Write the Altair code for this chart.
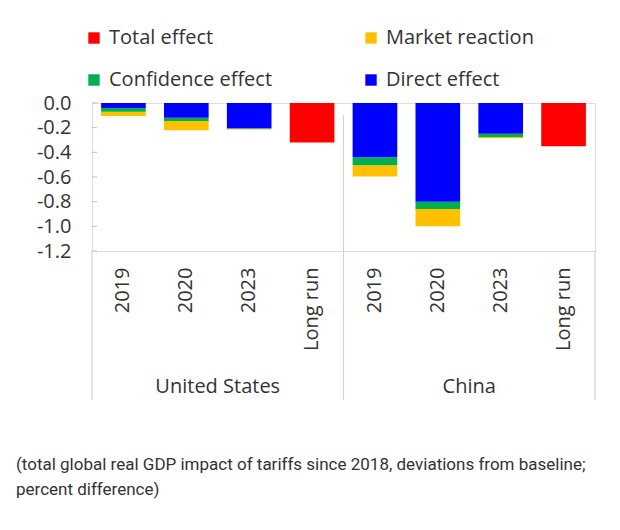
import altair as alt
import pandas as pd

countries = ["United States", "China"]
periods = ["2019", "2020", "2023", "Long run"]

# values per bar: US 2019, 2020, 2023, Long run, China 2019, 2020, 2023, Long run
direct_effect = [-0.04, -0.12, -0.205, 0.0, -0.44, -0.80, -0.25, 0.0]
confidence_effect = [-0.03, -0.025, -0.003, 0.0, -0.065, -0.06, -0.025, 0.0]
market_reaction = [-0.035, -0.075, -0.007, 0.0, -0.09, -0.14, -0.01, 0.0]
total_effect = [0.0, 0.0, 0.0, -0.32, 0.0, 0.0, 0.0, -0.35]

# legend fills column by column: col 1 = Total, Confidence; col 2 = Market, Direct
series_names = ["Total effect", "Confidence effect", "Market reaction", "Direct effect"]
series_colors = ["#FF0000", "#00B050", "#FFC000", "#0000FF"]
stack_order = {"Direct effect": 0, "Confidence effect": 1, "Market reaction": 2, "Total effect": 3}

y_ticks = [0.0, -0.2, -0.4, -0.6, -0.8, -1.0, -1.2]
caption = ["(total global real GDP impact of tariffs since 2018, deviations from baseline;\npercent difference)"]

keys = [f"{c}|{p}" for c in countries for p in periods]
series_values = {
    "Total effect": total_effect,
    "Market reaction": market_reaction,
    "Confidence effect": confidence_effect,
    "Direct effect": direct_effect,
}
rows = []
for s, vals in series_values.items():
    for k, v in zip(keys, vals):
        rows.append({"key": k, "series": s, "value": v, "ord": stack_order[s]})
df = pd.DataFrame(rows)

FONT = "Open Sans"
W, H = 503, 148

xscale = alt.Scale(domain=keys, paddingInner=0, paddingOuter=0)
yscale = alt.Scale(domain=[-1.2, 0], nice=False, zero=False)

xaxis = alt.Axis(labelAngle=-90, labelExpr="split(datum.label, '|')[1]",
                 labelFontSize=20, labelFont=FONT, labelColor="#333",
                 labelPadding=16, domain=False, ticks=False, labelBaseline="middle",
                 title=None)
yaxis = alt.Axis(values=y_ticks, grid=False, domain=False, ticks=False,
                 labelOverlap=False, labelFlush=False,
                 labelExpr="(datum.value < 0 ? '-' : '') + format(abs(datum.value), '.1f')",
                 labelFontSize=20, labelFont=FONT, labelColor="#333", labelPadding=21,
                 title=None)

bars = alt.Chart(df).mark_bar(width=alt.RelativeBandSize(0.71)).encode(
    x=alt.X("key:N", scale=xscale, sort=keys, axis=xaxis),
    y=alt.Y("value:Q", scale=yscale, axis=yaxis),
    color=alt.Color("series:N", scale=alt.Scale(domain=series_names, range=series_colors),
                    legend=alt.Legend(title=None, orient="none", legendX=-8, legendY=-75,
                                      columns=2, symbolType="square", symbolSize=130,
                                      symbolStrokeWidth=0, labelFontSize=20, labelFont=FONT,
                                      labelColor="#333", columnPadding=88, rowPadding=22,
                                      labelOffset=5, labelLimit=400)),
    order=alt.Order("ord:Q"),
)

tick_df = pd.DataFrame({"t": y_ticks})
inner_ticks = alt.Chart(tick_df).mark_rule(color="#bfbfbf").encode(
    y=alt.Y("t:Q", scale=yscale, axis=yaxis), x=alt.value(0), x2=alt.value(5)
)

div_df = pd.DataFrame({"key": [keys[3]]})
divider = alt.Chart(div_df).mark_rule(color="#d9d0bd", strokeWidth=1).encode(
    x=alt.X("key:N", scale=xscale, sort=keys, bandPosition=1, axis=xaxis),
    y=alt.value(12), y2=alt.value(297),
)
edges = alt.Chart(pd.DataFrame({"e": [0]})).mark_rule(color="#c8c8c8").encode(
    x=alt.value(0), y=alt.value(H), y2=alt.value(297)
) + alt.Chart(pd.DataFrame({"e": [0]})).mark_rule(color="#c8c8c8").encode(
    x=alt.value(W), y=alt.value(H), y2=alt.value(297)
)

country_df = pd.DataFrame({"key": [f"{c}|2020" for c in countries], "country": countries})
country_labels = alt.Chart(country_df).mark_text(
    fontSize=20, font=FONT, color="#333", baseline="middle"
).encode(
    x=alt.X("key:N", scale=xscale, sort=keys, bandPosition=1, axis=xaxis),
    y=alt.value(284),
    text="country:N",
)

cap = alt.Chart(pd.DataFrame({"c": caption})).mark_text(
    align="left", baseline="middle", fontSize=17, font="Roboto", color="#333",
    lineBreak="\n", lineHeight=25
).encode(x=alt.value(-76), y=alt.value(362), text="c:N")

chart = alt.layer(bars, inner_ticks, divider, edges, country_labels, cap).properties(
    width=W, height=H,
    autosize=alt.AutoSizeParams(type="none"),
    padding={"left": 84, "top": 95, "right": 15, "bottom": 260},
).configure_view(stroke="#c8c8c8", strokeWidth=1).configure(background="white")

chart.save("out.html", embed_options={"renderer": "svg", "actions": False})
